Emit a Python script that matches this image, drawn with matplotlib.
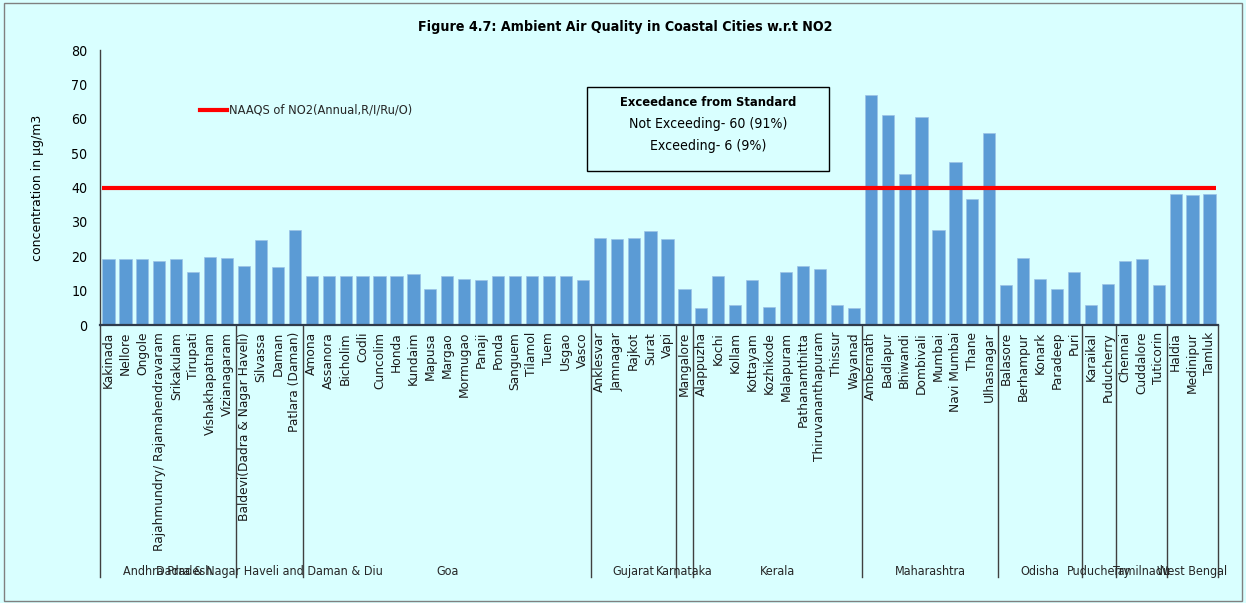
import matplotlib
matplotlib.use("Agg")
import matplotlib.pyplot as plt
import matplotlib.transforms as mtransforms
from matplotlib.patches import Rectangle
from matplotlib.lines import Line2D
from matplotlib.font_manager import FontProperties

states = ["Andhra Pradesh", "Dadra & Nagar Haveli and Daman & Diu", "Goa", "Gujarat",
          "Karnataka", "Kerala", "Maharashtra", "Odisha", "Puducherry", "Tamilnadu", "West Bengal"]

cities = [
    ["Kakinada", "Nellore", "Ongole", "Rajahmundry/ Rajamahendravaram", "Srikakulam",
     "Tirupati", "Vishakhapatnam", "Vizianagaram"],
    ["Baldevi(Dadra & Nagar Haveli)", "Silvassa", "Daman", "Patlara (Daman)"],
    ["Amona", "Assanora", "Bicholim", "Codli", "Cuncolim", "Honda", "Kundaim", "Mapusa",
     "Margao", "Mormugao", "Panaji", "Ponda", "Sanguem", "Tilamol", "Tuem", "Usgao", "Vasco"],
    ["Anklesvar", "Jamnagar", "Rajkot", "Surat", "Vapi"],
    ["Mangalore"],
    ["Alappuzha", "Kochi", "Kollam", "Kottayam", "Kozhikode", "Malapuram", "Pathanamthitta",
     "Thiruvananthapuram", "Thissur", "Wayanad"],
    ["Ambernath", "Badlapur", "Bhiwandi", "Dombivali", "Mumbai", "Navi Mumbai", "Thane", "Ulhasnagar"],
    ["Balasore", "Berhampur", "Konark", "Paradeep", "Puri"],
    ["Karaikal", "Puducherry"],
    ["Chennai", "Cuddalore", "Tuticorin"],
    ["Haldia", "Medinipur", "Tamluk"],
]

no2 = [
    [19.1, 19.1, 19.1, 18.7, 19.1, 15.3, 19.7, 19.6],
    [17.3, 24.8, 16.8, 27.7],
    [14.4, 14.4, 14.4, 14.4, 14.4, 14.4, 14.8, 10.6, 14.4, 13.5, 13.0, 14.4, 14.4, 14.4, 14.4, 14.4, 13.0],
    [25.3, 24.9, 25.3, 27.3, 24.9],
    [10.6],
    [4.9, 14.4, 5.8, 13.0, 5.3, 15.3, 17.3, 16.3, 5.8, 4.9],
    [66.8, 61.1, 43.9, 60.6, 27.7, 47.3, 36.8, 55.9],
    [11.5, 19.6, 13.5, 10.6, 15.3],
    [5.8, 12.0],
    [18.7, 19.1, 11.5],
    [38.2, 37.7, 38.2],
]

naaqs = 40
yticks = [0, 10, 20, 30, 40, 50, 60, 70, 80]

bg = "#D9FFFF"
bar_color = "#5B9BD5"


def fp(size, weight="normal"):
    return FontProperties(family="DejaVu Sans", stretch="condensed", size=size, weight=weight)


labels = [c for grp in cities for c in grp]
values = [v for grp in no2 for v in grp]
x = list(range(len(labels)))

fig = plt.figure(figsize=(12.46, 6.03), dpi=100, facecolor=bg)
fig.patches.append(Rectangle((0.003, 0.004), 0.994, 0.991, transform=fig.transFigure,
                             fill=False, edgecolor="#808080", linewidth=1.0))
ax = fig.add_axes([0.0803, 0.461, 0.8972, 0.456])
ax.set_facecolor(bg)

ax.bar(x, values, width=0.72, color=bar_color, edgecolor="#9DC3E6", linewidth=0.5, zorder=2)
ax.hlines(naaqs, -0.4, len(x) - 0.6, color="#FF0000", linewidth=3, zorder=3)

ax.set_xlim(-0.5, len(x) - 0.5)
ax.set_ylim(0, 80)
ax.set_yticks(yticks)
ax.tick_params(axis="y", length=0, pad=9)
for t in ax.get_yticklabels():
    t.set_fontproperties(fp(10.2))
ax.set_xticks(x)
ax.set_xticklabels(labels, rotation=90, fontsize=8.8, va="top", ha="center", color="#1a1a1a")
ax.tick_params(axis="x", length=0, pad=5)

for s in ["top", "right"]:
    ax.spines[s].set_visible(False)
ax.spines["left"].set_color("#404040")
ax.spines["left"].set_linewidth(1.0)
ax.spines["bottom"].set_color("#2F3B4C")
ax.spines["bottom"].set_linewidth(1.6)

ax.set_ylabel("concentration in μg/m3", fontsize=9, labelpad=20)

# group dividers and labels
trans = mtransforms.blended_transform_factory(ax.transData, ax.transAxes)
start = 0
bounds = [-0.5]
for st, grp in zip(states, cities):
    end = start + len(grp)
    bounds.append(end - 0.5)
    ax.text((start + end - 1) / 2, -0.895, st, transform=trans, ha="center", va="center",
            fontproperties=fp(9.0), color="#262626")
    start = end
for b in bounds:
    ax.add_line(Line2D([b, b], [0, -0.915], transform=trans, color="#404040",
                       linewidth=1.0, clip_on=False))

# legend
ax.add_line(Line2D([5.4, 7.0], [0.783, 0.783], transform=trans, color="#FF0000",
                   linewidth=3, clip_on=False))
ax.text(7.1, 0.783, "NAAQS of NO2(Annual,R/I/Ru/O)", transform=trans, ha="left",
        va="center", fontproperties=fp(9.2), color="#262626")

# text box
fig.patches.append(Rectangle((587 / 1246, 1 - 171 / 603), (829 - 587) / 1246, (171 - 87) / 603,
                             transform=fig.transFigure, fill=False, edgecolor="#000000",
                             linewidth=1.0))
cx = (587 + 829) / 2 / 1246
fig.text(cx, 1 - 102 / 603, "Exceedance from Standard", ha="center", va="center",
         fontproperties=fp(9.3, "bold"))
fig.text(cx, 1 - 124 / 603, "Not Exceeding- 60 (91%)", ha="center", va="center",
         fontproperties=fp(10.1))
fig.text(cx, 1 - 146 / 603, "Exceeding- 6 (9%)", ha="center", va="center",
         fontproperties=fp(10.1))

fig.text(625 / 1246, 1 - 27 / 603, "Figure 4.7: Ambient Air Quality in Coastal Cities w.r.t NO2",
         ha="center", va="center", fontproperties=fp(10.2, "bold"))

fig.savefig("out.png", dpi=100, facecolor=bg)
